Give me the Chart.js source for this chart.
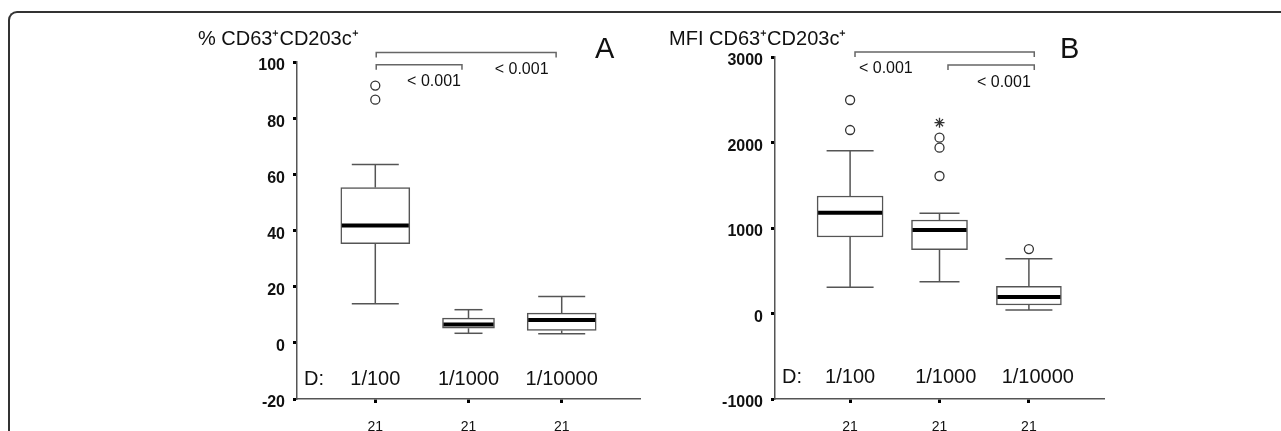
<!DOCTYPE html>
<html><head><meta charset="utf-8">
<script src="https://cdn.jsdelivr.net/npm/chart.js@4/dist/chart.umd.min.js"></script>
<style>
html,body{margin:0;padding:0;background:#fff;width:1281px;height:431px;overflow:hidden;position:relative}
#frame{position:absolute;left:8px;top:11px;width:1400px;height:600px;border-left:2px solid #333;border-top:2px solid #333;border-top-left-radius:9px;box-sizing:border-box}
#ca{position:absolute;left:0;top:0}
#cb{position:absolute;left:660px;top:0}
</style></head><body>
<div id="frame"></div>
<canvas id="ca" width="660" height="431"></canvas>
<canvas id="cb" width="621" height="431"></canvas>
<script>
// ---- data ----
const categories = ['1/100', '1/1000', '1/10000'];
const nLabels = ['21', '21', '21'];
const positions = [1, 2, 3];

// Panel A: % CD63+CD203c+
const aMin = [13.9, 3.4, 3.2];
const aQ1  = [35.3, 5.2, 4.4];
const aMed = [41.8, 6.5, 8.1];
const aQ3  = [55.3, 8.8, 10.6];
const aMax = [63.5, 11.8, 16.5];
const aOutliers = [[91.6, 86.6], [], []];
const aExtremes = [[], [], []];
const aTicks = [-20, 0, 20, 40, 60, 80, 100];

// Panel B: MFI CD63+CD203c+
const bMin = [306, 372, 41];
const bQ1  = [895, 746, 99];
const bMed = [1179, 977, 193];
const bQ3  = [1374, 1094, 318];
const bMax = [1904, 1172, 641];
const bOutliers = [[2497, 2146], [2056, 1939, 1608], [754]];
const bExtremes = [[], [2232], []];
const bTicks = [-1000, 0, 1000, 2000, 3000];

const pValues = ['< 0.001', '< 0.001'];

const FONT = 'Liberation Sans, Arial, sans-serif';
const BOXC = '#555';

function buildDatasets(mn, q1, md, q3, mx, outl, extr, boxW, capW) {
  const ds = [];
  positions.forEach((x, i) => {
    ds.push({type: 'bar', data: [{x: x, y: [q1[i], q3[i]]}], barThickness: boxW[i],
      backgroundColor: '#fff', borderColor: BOXC, borderWidth: 1.5, borderSkipped: false,
      grouped: false, order: 5});
  });
  const wd = [];
  positions.forEach((x, i) => {
    wd.push({x: x, y: q3[i]}, {x: x, y: mx[i]}, {x: x, y: null},
            {x: x, y: q1[i]}, {x: x, y: mn[i]}, {x: x, y: null});
  });
  ds.push({type: 'line', data: wd, borderColor: BOXC, borderWidth: 1.5, pointRadius: 0,
    spanGaps: false, fill: false, order: 4});
  const cd = [];
  positions.forEach((x, i) => { cd.push({x: x, y: mx[i], w: capW[i]}, {x: x, y: mn[i], w: capW[i]}); });
  ds.push({type: 'scatter', data: cd, pointStyle: 'line', showLine: false,
    pointRadius: c => c.raw ? c.raw.w / 2 : 0, pointBorderColor: BOXC, pointBorderWidth: 1.5,
    pointHoverRadius: c => c.raw ? c.raw.w / 2 : 0, order: 3});
  const mdd = positions.map((x, i) => ({x: x, y: md[i], w: boxW[i]}));
  ds.push({type: 'scatter', data: mdd, pointStyle: 'line', showLine: false,
    pointRadius: c => c.raw ? c.raw.w / 2 - 1 : 0, pointBorderColor: '#000', pointBorderWidth: 4,
    order: 2});
  const od = [];
  positions.forEach((x, i) => outl[i].forEach(v => od.push({x: x, y: v})));
  ds.push({type: 'scatter', data: od, pointStyle: 'circle', showLine: false, pointRadius: 4.5,
    pointBackgroundColor: '#fff', pointBorderColor: '#333', pointBorderWidth: 1.3, order: 1});
  const ed = [];
  positions.forEach((x, i) => extr[i].forEach(v => ed.push({x: x, y: v})));
  ds.push({type: 'scatter', data: ed, pointStyle: 'star', showLine: false, pointRadius: 5,
    pointBackgroundColor: '#fff', pointBorderColor: '#333', pointBorderWidth: 1.3, order: 1});
  return ds;
}

const annotPlugin = {
  id: 'annot',
  afterDraw(chart, args, o) {
    const ctx = chart.ctx, xs = chart.scales.x, ys = chart.scales.y;
    ctx.save();
    ctx.fillStyle = '#111';
    ctx.textBaseline = 'alphabetic';
    // axis title
    ctx.font = '20px ' + FONT;
    ctx.textAlign = 'left';
    ctx.fillText(o.title, xs.left + o.titleDx, o.titleY);
    // panel letter
    ctx.font = '29px ' + FONT;
    ctx.fillText(o.letter, xs.left + o.letterDx, o.letterY);
    // significance brackets
    ctx.strokeStyle = '#666';
    ctx.lineWidth = 1.5;
    o.brackets.forEach(b => {
      const x1 = xs.getPixelForValue(b.x1), x2 = xs.getPixelForValue(b.x2), y = ys.getPixelForValue(b.y);
      ctx.beginPath();
      ctx.moveTo(x1, y + 5); ctx.lineTo(x1, y); ctx.lineTo(x2, y); ctx.lineTo(x2, y + 5);
      ctx.stroke();
    });
    ctx.font = '16px ' + FONT;
    ctx.textAlign = 'center';
    o.labels.forEach((l, i) => {
      ctx.fillText(pValues[i], xs.getPixelForValue(l.x), ys.getPixelForValue(l.y));
    });
    // category names inside plot
    ctx.font = '20px ' + FONT;
    ctx.textAlign = 'left';
    ctx.fillText('D:', xs.left + 7, ys.getPixelForValue(o.catY));
    ctx.textAlign = 'center';
    categories.forEach((c, i) => {
      ctx.fillText(c, xs.getPixelForValue(positions[i] + o.catDx[i]), ys.getPixelForValue(o.catY));
    });
    ctx.restore();
  }
};

function zeroPad(s) { s.paddingLeft = 0; s.paddingRight = 0; s.paddingTop = 0; s.paddingBottom = 0; }

function makeChart(id, ds, yMin, yMax, yTicks, yW, padR, padT, annot) {
  return new Chart(document.getElementById(id), {
    type: 'bar',
    data: {datasets: ds},
    options: {
      responsive: false, animation: false, devicePixelRatio: 1,
      layout: {autoPadding: false, padding: {top: padT, right: padR, left: 0, bottom: 0}},
      plugins: {legend: {display: false}, tooltip: {enabled: false}, annot: annot},
      scales: {
        x: {type: 'linear', min: 0.16, max: 3.84, offset: false,
          afterBuildTicks: s => { s.ticks = positions.map(v => ({value: v})); },
          afterFit: s => { s.height = 32; zeroPad(s); },
          ticks: {callback: (v, i) => nLabels[i], color: '#111', padding: 16, maxRotation: 0, autoSkip: false,
            font: {family: FONT, size: 14}},
          grid: {offset: false, drawOnChartArea: false, tickLength: 4, tickWidth: 3, tickColor: '#000'},
          border: {display: true, color: '#555', width: 1.5}},
        y: {type: 'linear', min: yMin, max: yMax,
          afterBuildTicks: s => { s.ticks = yTicks.map(v => ({value: v})); },
          afterFit: s => { s.width = yW; zeroPad(s); },
          ticks: {callback: v => String(v), color: '#111', padding: 8, labelOffset: 4,
            font: {family: FONT, size: 16, weight: 'bold'}},
          grid: {drawOnChartArea: false, tickLength: 4, tickWidth: 3, tickColor: '#000'},
          border: {display: true, color: '#555', width: 1.5}}
      }
    },
    plugins: [annotPlugin]
  });
}

makeChart('ca',
  buildDatasets(aMin, aQ1, aMed, aQ3, aMax, aOutliers, aExtremes, [69, 52, 69], [47, 28, 47]),
  -20, 100, aTicks, 297, 20, 62, {
    title: '% CD63\u207ACD203c\u207A', titleDx: -99, titleY: 45,
    letter: 'A', letterDx: 298, letterY: 58,
    brackets: [{x1: 1.01, x2: 2.94, y: 103.4}, {x1: 1.01, x2: 1.93, y: 99.0}],
    labels: [{x: 1.63, y: 91.6}, {x: 2.57, y: 95.9}],
    catY: -15.0, catDx: [0, 0, 0]
  });

makeChart('cb',
  buildDatasets(bMin, bQ1, bMed, bQ3, bMax, bOutliers, bExtremes, [66, 56, 65], [47, 40, 47]),
  -1000, 3000, bTicks, 115, 177, 57, {
    title: 'MFI CD63\u207ACD203c\u207A', titleDx: -106, titleY: 45,
    letter: 'B', letterDx: 285, letterY: 58,
    brackets: [{x1: 1.055, x2: 3.06, y: 3058}, {x1: 2.095, x2: 3.06, y: 2906}],
    labels: [{x: 1.40, y: 2813}, {x: 2.72, y: 2649}],
    catY: -813, catDx: [0, 0.07, 0.1]
  });
</script>
</body></html>
